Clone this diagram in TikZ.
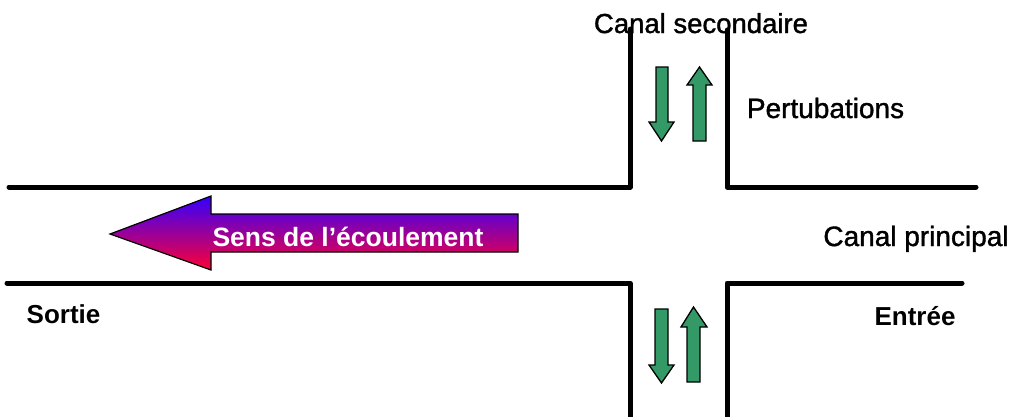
\documentclass[tikz,border=0pt]{standalone}
\usepackage{fontspec}
\setmainfont{Liberation Sans}
\newfontfamily\medfont[FakeBold=1.3]{Liberation Sans}
\definecolor{flowgreen}{RGB}{51,153,102}
\definecolor{flowtop}{RGB}{51,0,255}
\definecolor{flowmid}{RGB}{165,0,205}
\definecolor{flowbot}{RGB}{255,0,51}
\begin{document}
\begin{tikzpicture}[x=1pt,y=-1pt,
  wall/.style={line width=5pt,line cap=round,line join=round},
  greenarrow/.style={fill=flowgreen,draw=black,line width=1.3pt,line join=miter},
  bigarrow/.style={top color=flowtop,middle color=flowmid,bottom color=flowbot,draw=black,line width=1.2pt,line join=miter},
  lbl/.style={font=\medfont\fontsize{28}{32}\selectfont,inner sep=0pt},
  blbl/.style={font=\fontsize{26}{30}\selectfont\bfseries,inner sep=0pt}]
\useasboundingbox (0,0) rectangle (1011,416);
% channel walls
\draw[wall] (9,187) -- (630,187) -- (630,29);
\draw[wall] (727,30) -- (727,187) -- (976,187);
\draw[wall] (7,283) -- (630,283) -- (630,422);
\draw[wall] (727,422) -- (727,283) -- (962,283);
% flow arrow
\draw[bigarrow] (110,234) -- (211,196) -- (211,214) -- (518,214) -- (518,252) -- (211,252) -- (211,270) -- cycle;
\node[blbl,text=white,anchor=base,font=\fontsize{26.5}{30}\selectfont\bfseries] (sens) at (348,246) {Sens de l’écoulement};
% perturbation arrows, top
\draw[greenarrow] (656,67) -- (668,67) -- (668,122) -- (674,122) -- (661.5,141) -- (649,122) -- (656,122) -- cycle;
\draw[greenarrow] (699.5,67) -- (712,85) -- (706,85) -- (706,141) -- (693,141) -- (693,85) -- (687,85) -- cycle;
% perturbation arrows, bottom
\draw[greenarrow] (655,309) -- (668,309) -- (668,365) -- (674,365) -- (661.5,383) -- (649,365) -- (655,365) -- cycle;
\draw[greenarrow] (693.5,307) -- (707,327) -- (700,327) -- (700,382) -- (687,382) -- (687,327) -- (681,327) -- cycle;
% labels
\node[lbl,anchor=base,font=\medfont\fontsize{27.5}{32}\selectfont] (sec) at (701,33) {Canal secondaire};
\node[lbl,anchor=base] (pert) at (825.5,118) {Pertubations};
\node[lbl,anchor=base] (princ) at (916,246) {Canal principal};
\node[blbl,anchor=base] (sortie) at (63.5,323) {Sortie};
\node[blbl,anchor=base] (entree) at (915,325) {Entrée};
\end{tikzpicture}
\end{document}
